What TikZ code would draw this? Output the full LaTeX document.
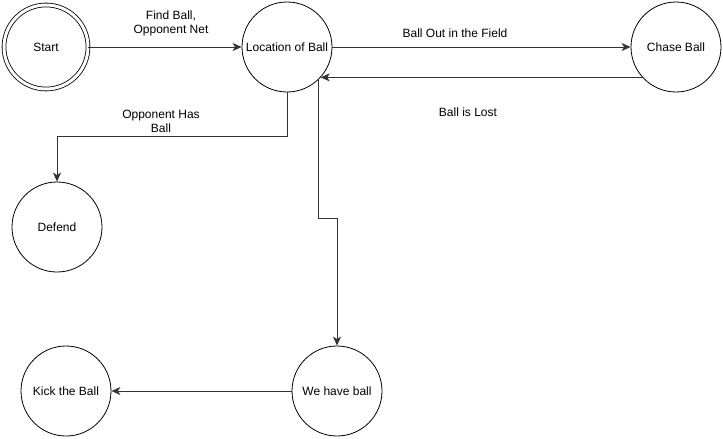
\documentclass[tikz,border=0pt]{standalone}
\usepackage{fontspec}
\setmainfont{Liberation Sans}
\usetikzlibrary{arrows.meta,positioning}

\begin{document}
\begin{tikzpicture}[x=1pt,y=-1pt,
    state/.style={circle, draw=black, fill=white, line width=0.8pt,
                  minimum size=90pt, inner sep=0pt, align=center,
                  font=\fontsize{12}{14}\selectfont},
    startstate/.style={state, double, double distance=3pt, minimum size=84pt},
    lbl/.style={align=center, font=\fontsize{12}{14}\selectfont},
    arr/.style={-{Stealth[length=9pt,width=8pt,inset=2.5pt]}, line width=0.8pt, black!80}
  ]
    \useasboundingbox (0,0) rectangle (723,439);

    \node[startstate] (start) at (46,47) {Start};
    \node[state] (loc) at (287,47) {Location of Ball};
    \node[state] (chase) at (676,47) {Chase Ball};
    \node[state] (def) at (57,227) {Defend};
    \node[state] (kick) at (66,391) {Kick the Ball};
    \node[state] (have) at (337,391) {We have ball};

    \draw[arr] (start) -- (loc);
    \draw[arr] (loc) -- (chase);
    \draw[arr] (chase.-138) -- (loc.-42);
    \draw[arr] (loc.south) |- (def.north |- 0,136) -- (def.north);
    \draw[arr] (loc.-46.5) |- (have.north |- 0,218) -- (have.north);
    \draw[arr] (have) -- (kick);

    \node[lbl] at (171,23) {Find Ball,\\Opponent Net};
    \node[lbl] at (455,33) {Ball Out in the Field};
    \node[lbl] at (468,112) {Ball is Lost};
    \node[lbl] at (161,121) {Opponent Has\\Ball};
  \end{tikzpicture}
\end{document}
